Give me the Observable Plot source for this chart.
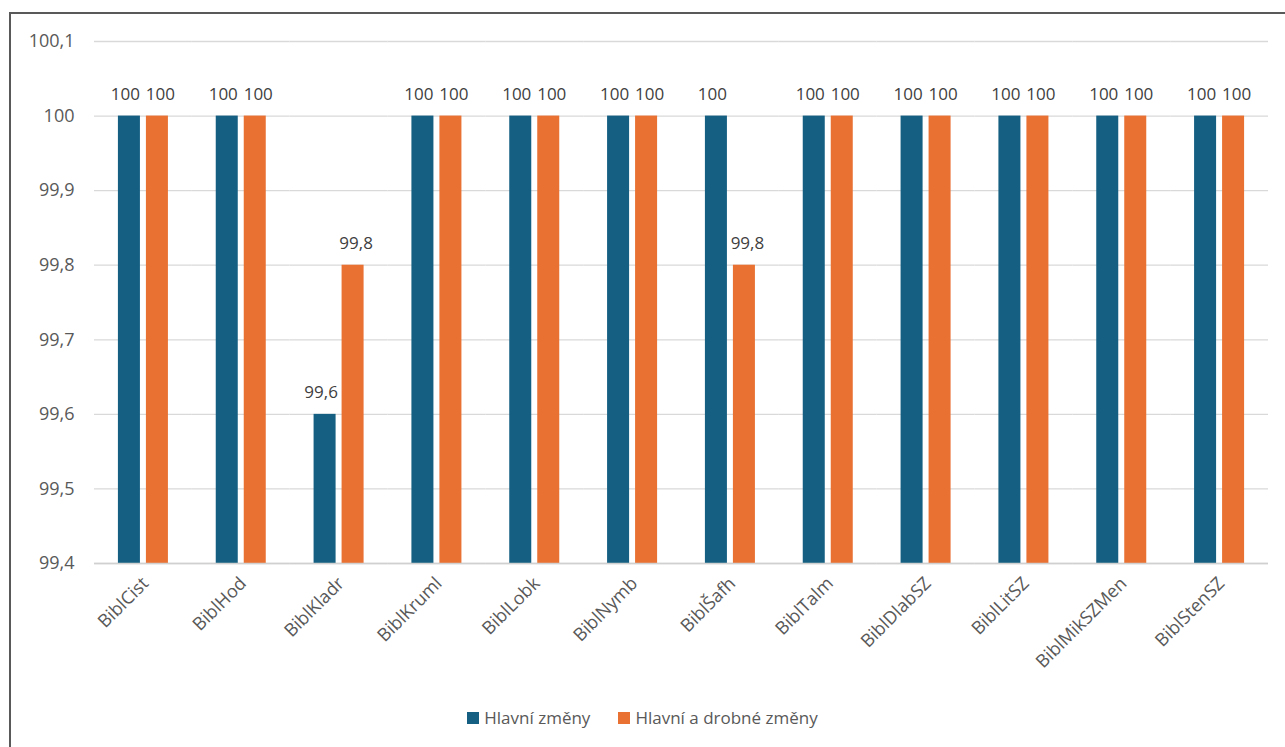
<!DOCTYPE html>
<html>
<head>
<meta charset="utf-8">
<script src="https://cdn.jsdelivr.net/npm/d3@7"></script>
<script src="https://cdn.jsdelivr.net/npm/@observablehq/plot@0.6"></script>
<style>
  html, body { margin: 0; padding: 0; background: #fff; width: 1285px; height: 747px; overflow: hidden; }
  #frame { position: absolute; left: 9px; top: 12px; width: 1290px; height: 760px; border-left: 2px solid #595959; border-top: 2px solid #595959; box-sizing: border-box; }
  #chart { position: absolute; left: 0; top: 0; }
  #legend { position: absolute; left: 0; top: 706px; width: 1285px; display: flex; justify-content: center; font-family: "Open Sans", sans-serif; font-size: 17px; color: #595959; }
  .item { display: flex; align-items: center; margin: 0 14px; }
  .sw { width: 12px; height: 12px; margin-right: 5px; }
</style>
</head>
<body>
<div id="frame"></div>
<div id="chart"></div>
<div id="legend"></div>
<script>
const categories = ["BiblCist","BiblHod","BiblKladr","BiblKruml","BiblLobk","BiblNymb","BiblŠafh","BiblTalm","BiblDlabSZ","BiblLitSZ","BiblMikSZMen","BiblStenSZ"];
const seriesNames = ["Hlavní změny","Hlavní a drobné změny"];
const seriesColors = ["#156082","#E97132"];
const hlavni = [100,100,99.6,100,100,100,100,100,100,100,100,100];
const hlavniDrobne = [100,100,99.8,100,100,100,99.8,100,100,100,100,100];
const yTicks = [99.4,99.5,99.6,99.7,99.8,99.9,100,100.1];

const rows = [];
categories.forEach((c, i) => {
  rows.push({cat: c, series: seriesNames[0], value: hlavni[i]});
  rows.push({cat: c, series: seriesNames[1], value: hlavniDrobne[i]});
});

const fmt = d => String(+d.toFixed(1)).replace(".", ",");
const base = yTicks[0];

const chart = Plot.plot({
  width: 1285,
  height: 680,
  marginLeft: 94,
  marginRight: 17,
  marginTop: 41,
  marginBottom: 117,
  style: {fontFamily: "Open Sans, sans-serif", background: "transparent", overflow: "visible", fontSize: "17px"},
  fx: {domain: categories, padding: 0, round: false, label: null},
  x: {domain: seriesNames, axis: null, paddingInner: 0.214, paddingOuter: 0.854, round: false},
  y: {domain: [yTicks[0], yTicks[yTicks.length - 1]], ticks: yTicks, label: null},
  color: {domain: seriesNames, range: seriesColors},
  marks: [
    Plot.gridY(yTicks, {stroke: "#d9d9d9", strokeOpacity: 1, strokeWidth: 1.3}),
    Plot.axisY(yTicks, {tickSize: 0, tickPadding: 20, tickFormat: fmt, fontSize: 18, fill: "#595959", label: null}),
    Plot.axisFx({anchor: "bottom", tickSize: 0, tickPadding: 17, dx: 2, tickRotate: -45, fontSize: 18, fill: "#595959", label: null}),
    Plot.barY(rows, {fx: "cat", x: "series", y1: () => base, y2: "value", fill: "series"}),
    Plot.ruleY([base], {stroke: "#d0d0d0", strokeWidth: 1.5}),
    Plot.text(rows.filter(d => d.series === seriesNames[0]), {fx: "cat", x: "series", y: "value", text: d => fmt(d.value), dy: -22, dx: -4, fontSize: 17, fill: "#404040"}),
    Plot.text(rows.filter(d => d.series === seriesNames[1]), {fx: "cat", x: "series", y: "value", text: d => fmt(d.value), dy: -22, dx: 3, fontSize: 17, fill: "#404040"})
  ]
});
document.getElementById("chart").appendChild(chart);

const legend = document.getElementById("legend");
seriesNames.forEach((s, i) => {
  const item = document.createElement("div");
  item.className = "item";
  const sw = document.createElement("div");
  sw.className = "sw";
  sw.style.background = seriesColors[i];
  const lab = document.createElement("span");
  lab.textContent = s;
  item.appendChild(sw);
  item.appendChild(lab);
  legend.appendChild(item);
});
</script>
</body>
</html>
